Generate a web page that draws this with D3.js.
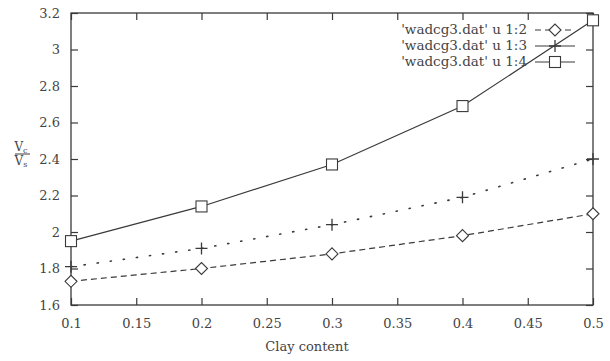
<!DOCTYPE html>
<html>
<head>
<meta charset="utf-8">
<script src="https://cdn.jsdelivr.net/npm/d3@7"></script>
<style>
  body { margin: 0; background: #fff; }
  text { font-family: "DejaVu Serif", "Liberation Serif", serif; fill: #444; }
</style>
</head>
<body>
<svg id="chart" width="610" height="361"></svg>
<script>
// data
const clay = [0.1, 0.2, 0.3, 0.4, 0.5];
const ratio12 = [1.73, 1.80, 1.88, 1.98, 2.10];
const ratio13 = [1.81, 1.91, 2.04, 2.19, 2.40];
const ratio14 = [1.95, 2.14, 2.37, 2.69, 3.16];
const xTicks = [0.1, 0.15, 0.2, 0.25, 0.3, 0.35, 0.4, 0.45, 0.5];
const yTicks = [1.6, 1.8, 2, 2.2, 2.4, 2.6, 2.8, 3, 3.2];
const seriesNames = ["'wadcg3.dat' u 1:2", "'wadcg3.dat' u 1:3", "'wadcg3.dat' u 1:4"];

const ink = "#3a3a3a";
const box = { left: 71, right: 593, top: 13, bottom: 305 };
const tickLen = 7;

const svg = d3.select("#chart");

const x = d3.scaleLinear().domain([0.1, 0.5]).range([box.left, box.right]);
const y = d3.scaleLinear().domain([1.6, 3.2]).range([box.bottom, box.top]);

// gnuplot style: ticks on all four sides pointing inward
const axisStyle = g => {
  g.select(".domain").remove();
  g.selectAll("line").attr("stroke", ink).attr("stroke-width", 1.2);
  g.selectAll("text").attr("font-size", 13).attr("fill", "#444")
    .style("font-family", "'DejaVu Serif', serif");
};

svg.append("g")
  .attr("transform", `translate(0,${box.bottom})`)
  .call(d3.axisBottom(x).tickValues(xTicks).tickSize(-tickLen).tickPadding(tickLen + 7)
    .tickFormat(d => d3.format("")(+d.toFixed(2))))
  .call(axisStyle);

svg.append("g")
  .attr("transform", `translate(0,${box.top})`)
  .call(d3.axisTop(x).tickValues(xTicks).tickSize(-tickLen).tickFormat(""))
  .call(axisStyle);

svg.append("g")
  .attr("transform", `translate(${box.left},0)`)
  .call(d3.axisLeft(y).tickValues(yTicks).tickSize(-tickLen).tickPadding(tickLen + 4)
    .tickFormat(d => d3.format("")(+d.toFixed(1))))
  .call(axisStyle);

svg.append("g")
  .attr("transform", `translate(${box.right},0)`)
  .call(d3.axisRight(y).tickValues(yTicks).tickSize(-tickLen).tickFormat(""))
  .call(axisStyle);

// frame
svg.append("rect")
  .attr("x", box.left).attr("y", box.top)
  .attr("width", box.right - box.left).attr("height", box.bottom - box.top)
  .attr("fill", "none").attr("stroke", ink).attr("stroke-width", 1.3);

// axis titles
svg.append("text")
  .attr("x", 307).attr("y", 351)
  .attr("text-anchor", "middle").attr("font-size", 13)
  .text("Clay content");

const frac = svg.append("g").attr("transform", "translate(22,154)");
frac.append("text").attr("x", -1).attr("y", -3).attr("text-anchor", "middle").attr("font-size", 12)
  .html('V<tspan font-size="8" dy="2">c</tspan>');
frac.append("line").attr("x1", -7).attr("x2", 8).attr("y1", 0).attr("y2", 0)
  .attr("stroke", ink).attr("stroke-width", 1);
frac.append("text").attr("x", -1).attr("y", 11).attr("text-anchor", "middle").attr("font-size", 12)
  .html('V<tspan font-size="8" dy="2">s</tspan>');

// series
const series = [
  { name: seriesNames[0], values: ratio12, dash: "6,4", marker: "diamond" },
  { name: seriesNames[1], values: ratio13, dash: "1.2,12", marker: "plus" },
  { name: seriesNames[2], values: ratio14, dash: null, marker: "square" }
];

const line = d3.line().x(d => x(d[0])).y(d => y(d[1]));

function drawMarker(g, kind, cx, cy) {
  if (kind === "diamond") {
    g.append("path")
      .attr("d", `M${cx - 6},${cy}L${cx},${cy - 6}L${cx + 6},${cy}L${cx},${cy + 6}Z`)
      .attr("fill", "#fff").attr("stroke", ink).attr("stroke-width", 1.1);
  } else if (kind === "square") {
    g.append("rect")
      .attr("x", cx - 5.5).attr("y", cy - 5.5).attr("width", 11).attr("height", 11)
      .attr("fill", "#fff").attr("stroke", ink).attr("stroke-width", 1.1);
  } else {
    g.append("path")
      .attr("d", `M${cx - 6},${cy}H${cx + 6}M${cx},${cy - 6}V${cy + 6}`)
      .attr("stroke", ink).attr("stroke-width", 1.3);
  }
}

series.forEach(s => {
  const pts = clay.map((c, i) => [c, s.values[i]]);
  const g = svg.append("g");
  g.append("path")
    .attr("d", line(pts))
    .attr("fill", "none").attr("stroke", ink)
    .attr("stroke-width", s.marker === "plus" ? 1.6 : 1.2)
    .attr("stroke-dasharray", s.dash)
    .attr("stroke-linecap", s.marker === "plus" ? "round" : "butt");
  pts.forEach(p => drawMarker(g, s.marker, x(p[0]), y(p[1])));
});

// key
const key = svg.append("g");
series.forEach((s, i) => {
  const ky = 30 + i * 16;
  key.append("text")
    .attr("x", 527).attr("y", ky + 4)
    .attr("text-anchor", "end").attr("font-size", 13.5)
    .text(s.name);
  key.append("line")
    .attr("x1", 535).attr("x2", 575).attr("y1", ky).attr("y2", ky)
    .attr("stroke", ink).attr("stroke-width", 1.2)
    .attr("stroke-dasharray", s.marker === "plus" ? null : s.dash);
  drawMarker(key, s.marker, 555, ky);
});
</script>
</body>
</html>
